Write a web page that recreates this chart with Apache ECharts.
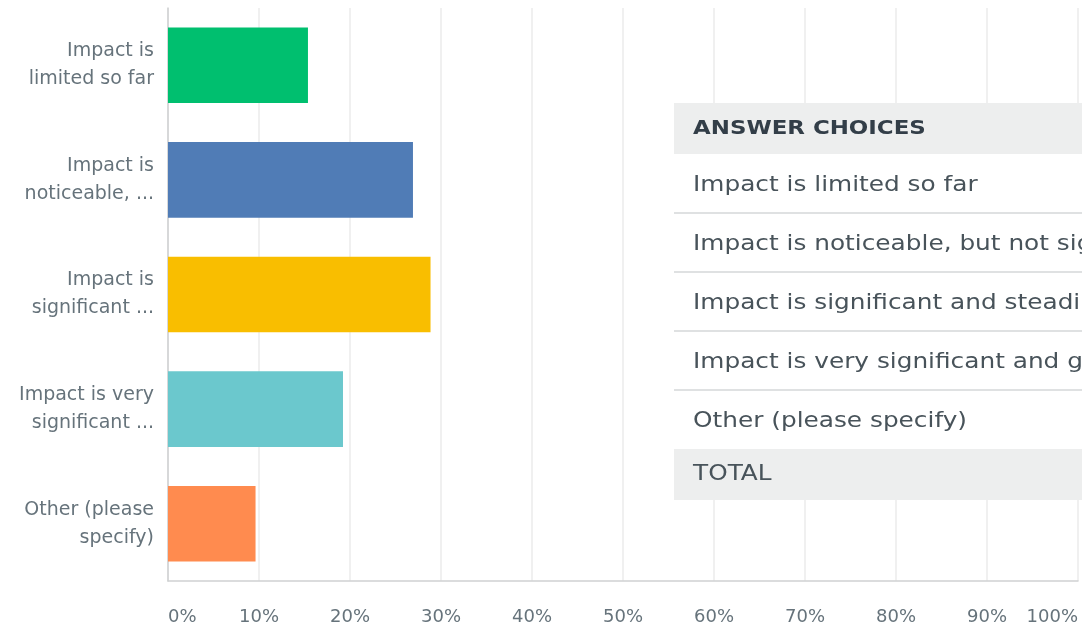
<!DOCTYPE html>
<html>
<head>
<meta charset="utf-8">
<script src="https://cdn.jsdelivr.net/npm/echarts@6/dist/echarts.min.js"></script>
<style>
  html, body {margin: 0; padding: 0; background: #fff;}
  #chart {width: 1082px; height: 626px;}
</style>
</head>
<body>
<div id="chart"></div>
<script>
const categories = [
    'Impact is\nlimited so far',
    'Impact is\nnoticeable, ...',
    'Impact is\nsignificant ...',
    'Impact is very\nsignificant ...',
    'Other (please\nspecify)'
];
const percentages = [15.38, 26.92, 28.85, 19.23, 9.62];
const barColors = ['#00bf6f', '#507cb6', '#f9be00', '#6bc8cd', '#ff8b4f'];
const xTicks = [0, 10, 20, 30, 40, 50, 60, 70, 80, 90, 100];

const tableHeader = 'ANSWER CHOICES';
const tableRows = [
    'Impact is limited so far',
    'Impact is noticeable, but not significant',
    'Impact is significant and steadily increasing',
    'Impact is very significant and growing',
    'Other (please specify)'
];
const tableFooter = 'TOTAL';

// answer table sits on top of the chart, like on the survey page
const tX = 674, tY = 103, headH = 51, rowH = 59;
const graphics = [];
const txt = (x, y, text, bold, fill) => ({
    type: 'text', x: x, y: y, z: 101, scaleX: bold ? 1.145 : 1.18,
    style: {text: text, fontFamily: 'DejaVu Sans', fontSize: bold ? 20 : 21,
        fontWeight: bold ? 'bold' : 'normal', fill: fill, verticalAlign: 'middle'}
});
graphics.push({type: 'rect', z: 100, shape: {x: tX, y: tY, width: 420, height: headH * 2 + rowH * tableRows.length}, style: {fill: '#fff'}});
graphics.push({type: 'rect', z: 100, shape: {x: tX, y: tY, width: 420, height: headH}, style: {fill: '#edeeee'}});
graphics.push(txt(693, tY + headH / 2, tableHeader, true, '#333e48'));
tableRows.forEach((r, i) => {
    const y0 = tY + headH + i * rowH;
    graphics.push(txt(693, y0 + rowH / 2 + 2, r, false, '#48535a'));
    if (i < tableRows.length - 1) {
        graphics.push({type: 'line', z: 100, shape: {x1: tX, y1: y0 + rowH, x2: 1082, y2: y0 + rowH},
            style: {stroke: '#d5d7d8', lineWidth: 1.5}});
    }
});
const fY = tY + headH + tableRows.length * rowH;
graphics.push({type: 'rect', z: 100, shape: {x: tX, y: fY, width: 420, height: headH}, style: {fill: '#edeeee'}});
graphics.push(txt(693, fY + headH / 2, tableFooter, false, '#48535a'));

const option = {
    animation: false,
    grid: {left: 168, right: 4, top: 8, bottom: 45},
    xAxis: {
        type: 'value', min: 0, max: 100, interval: 10,
        axisLine: {show: true, lineStyle: {color: '#cfd1d2', width: 1.5}},
        axisTick: {show: false},
        splitLine: {lineStyle: {color: '#ebebeb', width: 1.5}},
        axisLabel: {
            margin: 27, fontSize: 18, color: '#66737b', fontFamily: 'DejaVu Sans',
            alignMinLabel: 'left', alignMaxLabel: 'right',
            formatter: v => xTicks.includes(v) ? v + '%' : ''
        }
    },
    yAxis: {
        type: 'category', inverse: true, data: categories,
        axisLine: {lineStyle: {color: '#cfd1d2', width: 1.5}},
        axisTick: {show: false},
        axisLabel: {margin: 14, fontSize: 19, lineHeight: 28, padding: [4, 0, 0, 0],
            color: '#66737b', fontFamily: 'DejaVu Sans', align: 'right'}
    },
    series: [{
        type: 'bar',
        barCategoryGap: '34%',
        data: percentages.map((v, i) => ({value: v, itemStyle: {color: barColors[i]}}))
    }],
    graphic: {elements: graphics}
};

const myChart = echarts.init(document.getElementById('chart'));
myChart.setOption(option);
</script>
</body>
</html>
